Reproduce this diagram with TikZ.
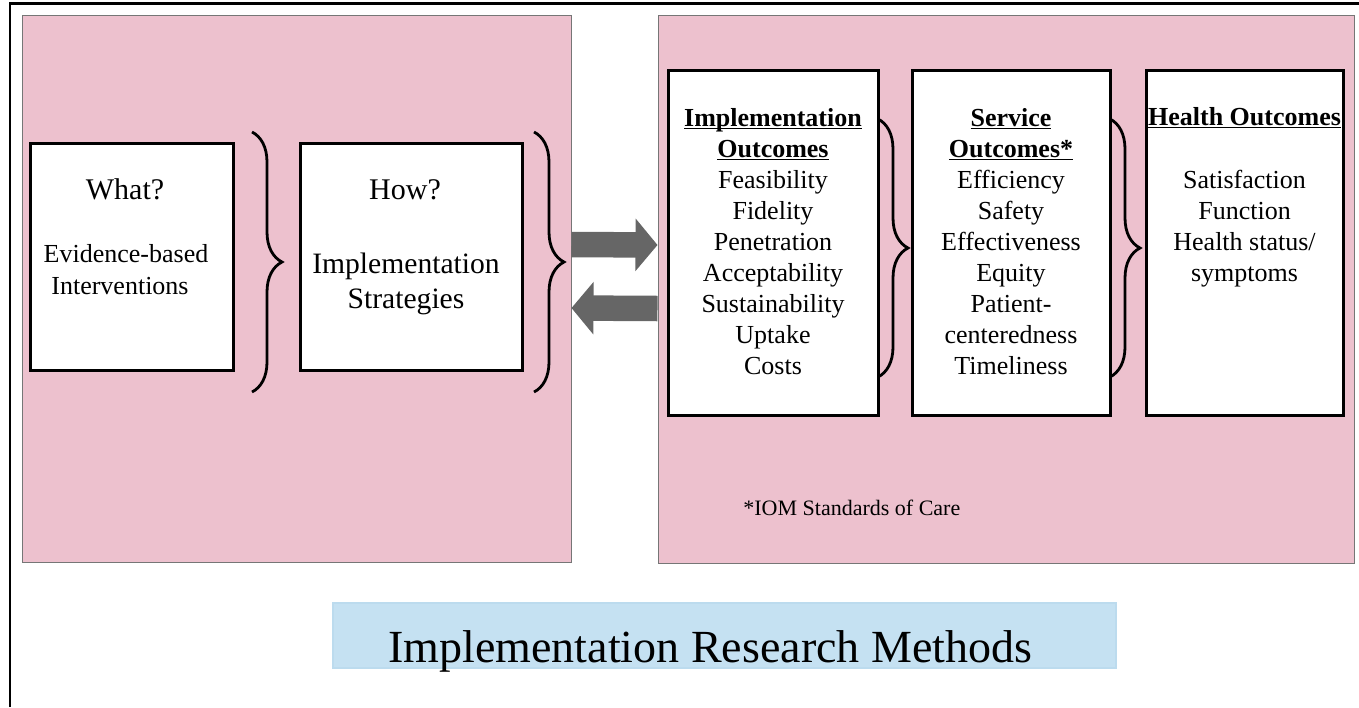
\documentclass[tikz,border=0pt]{standalone}
\usepackage{fontspec}
\setmainfont{Liberation Serif}
\usetikzlibrary{positioning, calc, fit, arrows.meta, decorations.pathreplacing}
\definecolor{panelpink}{RGB}{237, 193, 206}
\definecolor{panelgray}{RGB}{118, 118, 118}
\definecolor{titleblue}{RGB}{197, 225, 242}
\definecolor{titleedge}{RGB}{188, 219, 238}
\definecolor{arrowgray}{RGB}{102, 102, 102}
\newcommand{\hdr}[1]{\setbox0\hbox{\bfseries #1}\rlap{\rule[-1.6pt]{\wd0}{0.7pt}}\box0}
\tikzset{
  panel/.style={draw=panelgray, line width=0.5pt, fill=panelpink, inner sep=0pt},
  stagebox/.style={draw=black, line width=1.5pt, fill=white, inner sep=0pt},
  bracket/.style={decorate, decoration={brace, amplitude=15pt}, line width=1.4pt},
  bigarrow/.style={arrowgray, line width=12.75pt, -{Triangle[length=11pt, width=25.75pt]}},
  item/.style={anchor=base, inner sep=0pt, font=\fontsize{13}{15.5}\selectfont},
  ask/.style={anchor=base, inner sep=0pt, font=\fontsize{15}{18}\selectfont}
}

\begin{document}
\begin{tikzpicture}[x=0.5pt, y=-0.5pt]
  \useasboundingbox (0, 0) rectangle (1359, 707);
  \draw[line width=1.2pt] (10, 707) -- (10, 3.5) -- (1359, 3.5);

  \node[panel, fit={(22, 15) (571, 562)}] (lpanel) {};
  \node[panel, fit={(658, 15) (1354, 563)}] (rpanel) {};
  \node[draw=titleedge, line width=1pt, fill=titleblue, inner sep=0pt, fit={(333, 603) (1116, 668)}] (methods) {};

  \node[stagebox, fit={(30, 143) (233, 370)}] (what) {};
  \node[stagebox, fit={(300, 143) (522, 370)}] (how) {};
  \node[stagebox, fit={(668, 70) (878, 415)}] (impl) {};
  \node[stagebox, fit={(912, 70) (1110, 415)}] (serv) {};
  \node[stagebox, fit={(1146, 70) (1343, 415)}] (health) {};

  \draw[bracket] (252, 132) -- (252, 392);
  \draw[bracket] (534, 132) -- (534, 392);
  \draw[bracket] (878, 119) -- (878, 377);
  \draw[bracket] (1110, 119) -- (1110, 377);

  \draw[bigarrow] ([yshift=22pt]lpanel.east) -- ([yshift=22pt]rpanel.west);
  \draw[bigarrow] ([yshift=-9.75pt]rpanel.west) -- ([yshift=-9.75pt]lpanel.east);

  \node[ask] (whatq) at (125, 199) {What?};
  \node[item] (ebi1) at (126, 262) {Evidence-based};
  \node[item] (ebi2) at (120, 294) {Interventions};

  \node[ask] (howq) at (405, 199) {How?};
  \node[ask, font=\fontsize{14.8}{17}\selectfont] (strat1) at (406, 273) {Implementation};
  \node[ask, font=\fontsize{14.8}{17}\selectfont] (strat2) at (406, 308) {Strategies};

  \node[item] (impl-h1) at (773, 126) {\hdr{Implementation}};
  \node[item] (impl-h2) at (773, 157) {\hdr{Outcomes}};
  \foreach \txt [count=\i from 2] in {Feasibility, Fidelity, Penetration, Acceptability, Sustainability, Uptake, Costs}
    \node[item] (impl-\i) at (773, 126+31*\i) {\txt};

  \node[item] (serv-h1) at (1011, 126) {\hdr{Service}};
  \node[item] (serv-h2) at (1011, 157) {\hdr{Outcomes*}};
  \foreach \txt [count=\i from 2] in {Efficiency, Safety, Effectiveness, Equity, Patient-, centeredness, Timeliness}
    \node[item] (serv-\i) at (1011, 126+31*\i) {\txt};

  \node[item] (health-h) at (1244.5, 125) {\hdr{Health Outcomes}};
  \foreach \txt [count=\i from 2] in {Satisfaction, Function, Health status/, symptoms}
    \node[item] (health-\i) at (1244.5, 126+31*\i) {\txt};

  \node[anchor=base west, inner sep=0pt, font=\fontsize{11}{13}\selectfont] (iom) at (743, 515) {*IOM Standards of Care};
  \node[anchor=base west, inner sep=0pt, font=\fontsize{23}{27}\selectfont] (irm) at (388, 662) {Implementation Research Methods};
\end{tikzpicture}
\end{document}
